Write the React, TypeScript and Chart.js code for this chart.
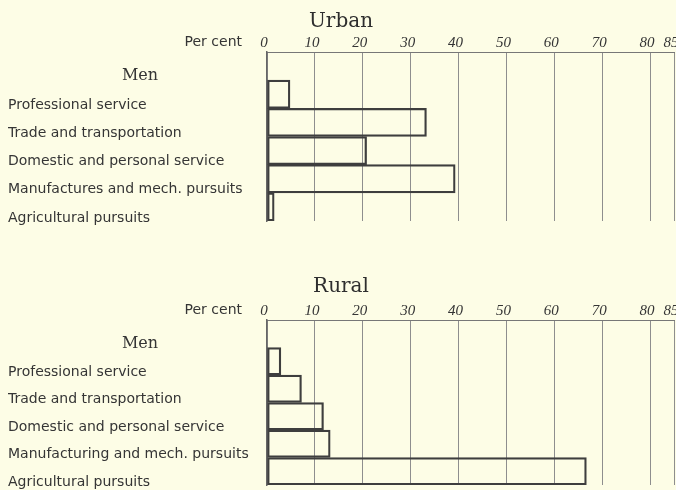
import React, { useEffect, useRef } from "react";
import { Chart, registerables } from "chart.js";

Chart.register(...registerables);

const urbanTitle = "Urban";
const ruralTitle = "Rural";
const groupLabel = "Men";
const axisLabel = "Per cent";

const urbanCategories = [
  "Professional service",
  "Trade and transportation",
  "Domestic and personal service",
  "Manufactures and mech. pursuits",
  "Agricultural pursuits",
];
const urbanValues = [4.8, 33.3, 20.8, 39.3, 1.5];

const ruralCategories = [
  "Professional service",
  "Trade and transportation",
  "Domestic and personal service",
  "Manufacturing and mech. pursuits",
  "Agricultural pursuits",
];
const ruralValues = [2.9, 7.2, 11.8, 13.2, 66.7];

const tickValues = [0, 10, 20, 30, 40, 50, 60, 70, 80, 85];
const axisMax = 85;

const BG = "#fdfde6";
const TEXT = "#353535";
const BAR_LINE = "#3e3e3e";
const GRID = "#8e8e8e";

const annotatePlugin = {
  id: "annotate",
  afterDraw(chart: any) {
    const { ctx, chartArea, scales } = chart;
    ctx.save();
    ctx.fillStyle = TEXT;
    ctx.font = '14px "DejaVu Sans"';
    ctx.textAlign = "right";
    ctx.textBaseline = "middle";
    ctx.fillText(axisLabel, chartArea.left - 25, chartArea.top - 10);
    ctx.font = '16px "DejaVu Serif"';
    ctx.textAlign = "center";
    ctx.fillText(groupLabel, 140, scales.y.getPixelForValue(0) + 10);
    ctx.restore();
  },
};

type PanelProps = {
  title: string;
  categories: string[];
  values: number[];
  titleTop: number;
  titleBottom: number;
  bottomPad: number;
};

function Panel({ title, categories, values, titleTop, titleBottom, bottomPad }: PanelProps) {
  const ref = useRef<HTMLCanvasElement | null>(null);
  useEffect(() => {
    if (!ref.current) return;
    const labels = ["", ...categories];
    const data = [null, ...values];
    const chart = new Chart(ref.current, {
      type: "bar",
      data: {
        labels,
        datasets: [
          {
            data: data as any,
            backgroundColor: "rgba(0,0,0,0)",
            borderColor: BAR_LINE,
            borderWidth: 1.6,
            borderSkipped: false,
            categoryPercentage: 1,
            barPercentage: 1,
          },
        ],
      },
      options: {
        indexAxis: "y",
        animation: false,
        responsive: false,
        layout: { padding: { left: 8, right: 2, top: 0, bottom: bottomPad } },
        plugins: {
          legend: { display: false },
          tooltip: { enabled: false },
          title: {
            display: true,
            text: title,
            color: "#2e2e2e",
            font: { family: '"DejaVu Serif"', size: 20, weight: "normal", lineHeight: 1 },
            padding: { top: titleTop, bottom: titleBottom },
          },
        },
        scales: {
          x: {
            type: "linear",
            position: "top",
            min: 0,
            max: axisMax,
            afterBuildTicks: (scale: any) => {
              scale.ticks = tickValues.map((v) => ({ value: v }));
            },
            afterFit: (scale: any) => {
              scale.paddingLeft = 0;
              scale.paddingRight = 0;
            },
            ticks: {
              color: TEXT,
              font: { family: '"Liberation Serif"', size: 15, style: "italic" },
              padding: 0,
              labelOffset: -3,
              maxRotation: 0,
              autoSkip: false,
              callback: (v: any) => String(v),
            },
            grid: { color: GRID, lineWidth: 1, drawTicks: false },
            border: { display: true, color: "#777", width: 1 },
          },
          y: {
            type: "category",
            afterFit: (scale: any) => {
              scale.width = 259;
              scale.paddingTop = 0;
              scale.paddingBottom = 0;
            },
            ticks: {
              color: TEXT,
              font: { family: '"DejaVu Sans"', size: 14 },
              crossAlign: "far",
              labelOffset: 11,
              autoSkip: false,
            },
            grid: {
              offset: true,
              drawTicks: false,
              lineWidth: 2,
              color: (c: any) => (c.index === labels.length ? BAR_LINE : "rgba(0,0,0,0)"),
            },
            border: { display: true, color: "#666", width: 1.5 },
          },
        },
      },
      plugins: [annotatePlugin],
    });
    return () => chart.destroy();
  }, [title, categories, values, titleTop, titleBottom, bottomPad]);
  return <canvas ref={ref} width={676} height={245} style={{ display: "block" }} />;
}

export default function App() {
  useEffect(() => {
    document.body.style.margin = "0";
    document.body.style.background = BG;
  }, []);
  return (
    <div style={{ width: 676, height: 490, background: BG }}>
      <Panel title={urbanTitle} categories={urbanCategories} values={urbanValues} titleTop={12} titleBottom={2} bottomPad={24} />
      <Panel title={ruralTitle} categories={ruralCategories} values={ruralValues} titleTop={32} titleBottom={5} bottomPad={5} />
    </div>
  );
}
